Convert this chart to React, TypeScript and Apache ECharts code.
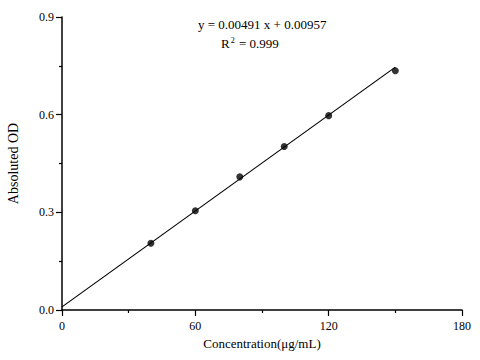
import React, { useEffect, useRef } from "react";
import * as echarts from "echarts";

const concentrations = [40, 60, 80, 100, 120, 150];
const absorbance = [0.205, 0.305, 0.409, 0.502, 0.597, 0.735];
const fitX = [0, 150];
const fitY = [0.0096, 0.746];
const equationText = "y = 0.00491 x + 0.00957";
const r2Value = "0.999";

export default function App() {
  const ref = useRef<HTMLDivElement>(null);
  useEffect(() => {
    if (!ref.current) return;
    const chart = echarts.init(ref.current, null, { renderer: "svg" });
    const font = "'Liberation Serif', 'Times New Roman', serif";
    chart.setOption({
      animation: false,
      backgroundColor: "#ffffff",
      textStyle: { fontFamily: font, color: "#000" },
      grid: { left: 62, right: 18, top: 17, bottom: 50, containLabel: false, outerBoundsMode: "none" },
      xAxis: {
        type: "value",
        min: 0,
        max: 180,
        interval: 60,
        name: "Concentration(μg/mL)",
        nameLocation: "middle",
        nameGap: 26,
        nameTextStyle: { fontFamily: font, fontSize: 13, color: "#000" },
        axisLine: { show: true, lineStyle: { color: "#000", width: 1.5 } },
        axisTick: { show: true, inside: false, length: 6, lineStyle: { color: "#000", width: 1.2 } },
        minorTick: { show: true, splitNumber: 2, length: 3, lineStyle: { color: "#000", width: 1.2 } },
        axisLabel: { fontFamily: font, fontSize: 12, color: "#000", margin: 10 },
        splitLine: { show: false },
      },
      yAxis: {
        type: "value",
        min: 0,
        max: 0.9,
        interval: 0.3,
        name: "Absoluted OD",
        nameLocation: "middle",
        nameGap: 42,
        nameTextStyle: { fontFamily: font, fontSize: 14, color: "#000" },
        axisLine: { show: true, lineStyle: { color: "#000", width: 1.5 } },
        axisTick: { show: true, inside: false, length: 6, lineStyle: { color: "#000", width: 1.2 } },
        minorTick: { show: true, splitNumber: 2, length: 3, lineStyle: { color: "#000", width: 1.2 } },
        axisLabel: {
          fontFamily: font,
          fontSize: 12,
          color: "#000",
          margin: 8,
          formatter: (v: number) => v.toFixed(1),
        },
        splitLine: { show: false },
      },
      series: [
        {
          type: "line",
          data: fitX.map((x, i) => [x, fitY[i]]),
          showSymbol: false,
          symbol: "none",
          lineStyle: { color: "#000", width: 1.2 },
          silent: true,
        },
        {
          type: "scatter",
          data: concentrations.map((x, i) => [x, absorbance[i]]),
          symbol: "circle",
          symbolSize: 7,
          itemStyle: { color: "#000" },
        },
      ],
      graphic: [
        {
          type: "text",
          left: 198,
          top: 18,
          style: { text: equationText, fontFamily: font, fontSize: 13, fill: "#000" },
        },
        {
          type: "text",
          left: 221,
          top: 36,
          style: {
            text: "R{sup|2} = " + r2Value,
            fontFamily: font,
            fontSize: 13,
            fill: "#000",
            rich: {
              sup: { fontFamily: font, fontSize: 8, verticalAlign: "top", padding: [0, 1, 6, 1], fill: "#000" },
            },
          },
        },
      ],
    });
    return () => chart.dispose();
  }, []);
  return <div ref={ref} style={{ width: 480, height: 360, position: "absolute", left: 0, top: 0 }} />;
}
